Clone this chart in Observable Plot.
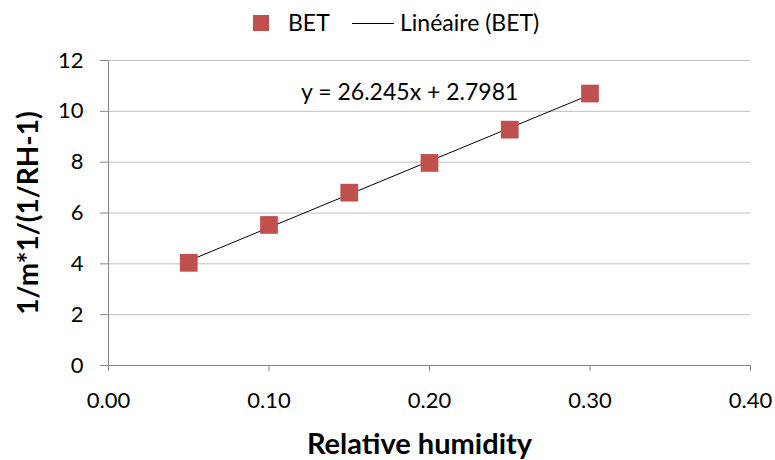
<!DOCTYPE html>
<html>
<head>
<meta charset="utf-8">
<script src="https://cdn.jsdelivr.net/npm/d3@7"></script>
<script src="https://cdn.jsdelivr.net/npm/@observablehq/plot@0.6"></script>
<style>
  body { margin: 0; background: #fff; font-family: Lato, "Open Sans", sans-serif; }
  #legend { position: relative; width: 775px; height: 45px; font-size: 23px; line-height: 23px; color: #000; }
  #legend .sq { position: absolute; left: 253px; top: 15px; width: 16px; height: 16px; background: #C0504D; }
  #legend .t1 { position: absolute; left: 288px; top: 11px; }
  #legend .ln { position: absolute; left: 352px; top: 23px; width: 42px; height: 1px; background: #000; }
  #legend .t2 { position: absolute; left: 400px; top: 11px; }
  svg text { fill: #000; }
</style>
</head>
<body>
<div id="legend"><div class="sq"></div><span class="t1">BET</span><div class="ln"></div><span class="t2">Linéaire (BET)</span></div>
<div id="chart"></div>
<script>
const humidity = [0.05, 0.10, 0.15, 0.20, 0.25, 0.30];
const betValues = [4.04, 5.53, 6.80, 7.97, 9.28, 10.70];
const xTicks = [0, 0.1, 0.2, 0.3, 0.4];
const yTicks = [0, 2, 4, 6, 8, 10, 12];
const equationLabel = ["y = 26.245x + 2.7981"];
const equationX = [0.12];
const equationY = [10.73];

const data = humidity.map((h, i) => ({x: h, y: betValues[i]}));
const eq = equationLabel.map((t, i) => ({t, x: equationX[i], y: equationY[i]}));

const chart = Plot.plot({
  width: 775,
  height: 415,
  marginTop: 15,
  marginBottom: 95,
  marginLeft: 108,
  marginRight: 25,
  style: { fontFamily: "Lato, 'Open Sans', sans-serif", fontSize: "22px", color: "#868686", background: "#fff", overflow: "visible" },
  x: {
    domain: [0, 0.4],
    ticks: xTicks,
    tickFormat: d3.format(".2f"),
    tickSize: 6,
    tickPadding: 21,
    label: "Relative humidity",
    labelArrow: "none",
    labelAnchor: "center",
    labelOffset: 88
  },
  y: {
    domain: [0, 12],
    ticks: yTicks,
    tickSize: 8,
    tickPadding: 17,
    label: "1/m*1/(1/RH-1)",
    labelArrow: "none",
    labelAnchor: "center",
    labelOffset: 90
  },
  marks: [
    Plot.ruleY(yTicks, {stroke: "#bfbfbf", strokeWidth: 1}),
    Plot.ruleX([0], {stroke: "#868686"}),
    Plot.ruleY([0], {stroke: "#868686"}),
    Plot.linearRegressionY(data, {x: "x", y: "y", stroke: "#000", strokeWidth: 1, ci: 0}),
    Plot.dot(data, {x: "x", y: "y", symbol: "square", r: 10, fill: "#C0504D", stroke: "none"}),
    Plot.text(eq, {x: "x", y: "y", text: "t", textAnchor: "start", fontSize: 23, fill: "#000"})
  ]
});
document.getElementById("chart").appendChild(chart);
chart.querySelectorAll("text").forEach(t => {
  const s = t.textContent;
  if (s.includes("Relative humidity") || s.includes("1/m*1")) {
    if (t.childElementCount === 0) t.textContent = s.replace(/\s*[→↑←↓]\s*/g, "");
    else t.querySelectorAll("tspan").forEach(ts => { ts.textContent = ts.textContent.replace(/\s*[→↑←↓]\s*/g, ""); });
    t.setAttribute("font-weight", "bold");
    if (s.includes("Relative")) { t.setAttribute("font-size", "29px"); t.setAttribute("dx", "-10"); }
    else t.setAttribute("font-size", "28px");
  }
});
</script>
</body>
</html>
